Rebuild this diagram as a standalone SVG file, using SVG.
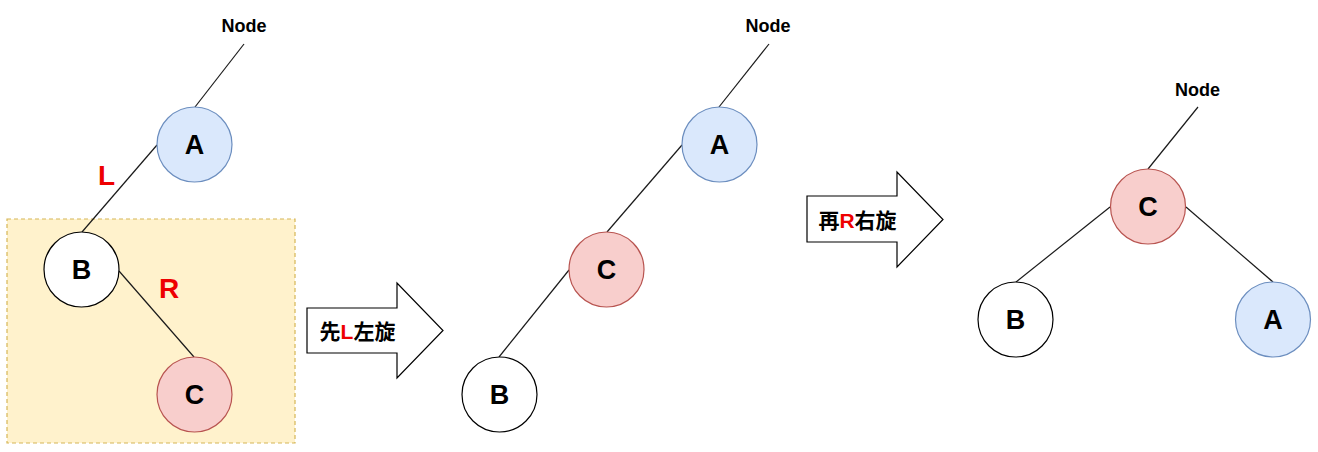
<svg xmlns="http://www.w3.org/2000/svg" width="1318" height="452" viewBox="0 0 1318 452">
  <style>
    .edge { stroke: #1a1a1a; stroke-width: 1.2; fill: none; }
    .blue { fill: #dae8fc; stroke: #6c8ebf; stroke-width: 1.2; }
    .red { fill: #f8cecc; stroke: #b85450; stroke-width: 1.2; }
    .white { fill: #ffffff; stroke: #000000; stroke-width: 1.2; }
    .lbl { font-family: "Liberation Sans", Arial, sans-serif; font-weight: bold; font-size: 27px; text-anchor: middle; fill: #000; }
    .node-lbl { font-family: "Liberation Sans", Arial, sans-serif; font-weight: bold; font-size: 18px; text-anchor: middle; fill: #000; }
    .side { font-family: "Liberation Sans", Arial, sans-serif; font-weight: bold; font-size: 28px; text-anchor: middle; fill: #ee0000; }
    .step { font-family: "Liberation Sans", "Noto Sans CJK SC", sans-serif; font-weight: bold; font-size: 21px; text-anchor: middle; fill: #000; }
    .hl { fill: #ee0000; }
    .arrow { fill: #ffffff; stroke: #000000; stroke-width: 1.2; }
  </style>

  <!-- highlighted subtree (B, C) -->
  <rect id="subtree-box" x="7" y="219" width="288" height="224" fill="#fff2cc" stroke="#d6b656" stroke-width="1.2" stroke-dasharray="4 3"/>

  <!-- connectors -->
  <g id="connectors">
    <!-- stage 1 -->
    <line class="edge" x1="244" y1="44" x2="195" y2="107"/>
    <line class="edge" x1="157" y1="145" x2="82" y2="232"/>
    <line class="edge" x1="119" y1="271" x2="194" y2="357"/>
    <!-- stage 2 -->
    <line class="edge" x1="769" y1="44" x2="719" y2="107"/>
    <line class="edge" x1="682" y1="145" x2="607" y2="232"/>
    <line class="edge" x1="569" y1="270" x2="499" y2="357"/>
    <!-- stage 3 -->
    <line class="edge" x1="1198" y1="107" x2="1148" y2="169"/>
    <line class="edge" x1="1110" y1="207" x2="1016" y2="282"/>
    <line class="edge" x1="1186" y1="207" x2="1273" y2="282"/>
  </g>

  <!-- stage 1 -->
  <g id="s1-parent"><text class="node-lbl" x="244" y="32">Node</text></g>
  <g id="s1-A"><circle class="blue" cx="194.5" cy="144.5" r="37.5"/><text class="lbl" x="194.5" y="154">A</text></g>
  <g id="s1-B"><circle class="white" cx="81.5" cy="269.5" r="37.5"/><text class="lbl" x="81.5" y="279">B</text></g>
  <g id="s1-C"><circle class="red" cx="194.5" cy="394.5" r="37.5"/><text class="lbl" x="194.5" y="404">C</text></g>
  <g id="s1-L"><text class="side" x="106.5" y="185">L</text></g>
  <g id="s1-R"><text class="side" x="169" y="298">R</text></g>

  <!-- step arrow 1 -->
  <g id="step-left">
    <polygon class="arrow" points="307,308 397,308 397,283 443,330.5 397,378 397,353 307,353"/>
    <text class="step" x="357.5" y="338.5">先<tspan class="hl">L</tspan>左旋</text>
  </g>

  <!-- stage 2 -->
  <g id="s2-parent"><text class="node-lbl" x="768" y="32">Node</text></g>
  <g id="s2-A"><circle class="blue" cx="719.5" cy="144.5" r="37.5"/><text class="lbl" x="719.5" y="154">A</text></g>
  <g id="s2-C"><circle class="red" cx="606.5" cy="269.5" r="37.5"/><text class="lbl" x="606.5" y="279">C</text></g>
  <g id="s2-B"><circle class="white" cx="499.5" cy="394.5" r="37.5"/><text class="lbl" x="499.5" y="404">B</text></g>

  <!-- step arrow 2 -->
  <g id="step-right">
    <polygon class="arrow" points="807,196 897,196 897,172 943,219.5 897,267 897,242 807,242"/>
    <text class="step" x="857.5" y="227.5">再<tspan class="hl">R</tspan>右旋</text>
  </g>

  <!-- stage 3 -->
  <g id="s3-parent"><text class="node-lbl" x="1197.5" y="96">Node</text></g>
  <g id="s3-C"><circle class="red" cx="1148" cy="206.5" r="37.5"/><text class="lbl" x="1148" y="216">C</text></g>
  <g id="s3-B"><circle class="white" cx="1015.5" cy="319.5" r="37.5"/><text class="lbl" x="1015.5" y="329">B</text></g>
  <g id="s3-A"><circle class="blue" cx="1273" cy="319.5" r="37.5"/><text class="lbl" x="1273" y="329">A</text></g>
</svg>
